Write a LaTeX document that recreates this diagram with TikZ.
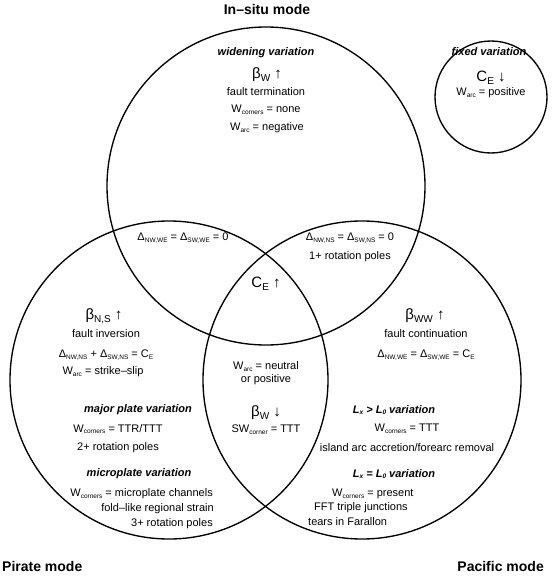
\documentclass[tikz,border=0pt]{standalone}
\usepackage{fontspec}
\setmainfont{Liberation Sans}
\newcommand\lo[1]{\raisebox{-0.3ex}{\fontsize{6.5}{7}\selectfont #1}}
\newcommand\blo[1]{\raisebox{-0.35ex}{\fontsize{10}{11}\selectfont #1}}
\tikzset{
 ring/.style={circle, draw, line width=1.35pt, inner sep=0pt},
 txt/.style={font=\fontsize{11}{13}\selectfont, inner sep=0pt},
 head/.style={font=\fontsize{11}{13}\selectfont\bfseries\itshape, inner sep=0pt},
 big/.style={font=\fontsize{15}{17}\selectfont, inner sep=0pt},
 mode/.style={font=\fontsize{14}{16}\selectfont\bfseries, inner sep=0pt},
}
\begin{document}
\begin{tikzpicture}[x=1pt,y=-1pt]
\useasboundingbox (0,0) rectangle (553,578);
\node[ring, minimum size=318pt] (insitu) at (266,186) {};
\node[ring, minimum size=318pt] (pirate) at (169,380) {};
\node[ring, minimum size=318pt] (pacific) at (362,380) {};
\node[ring, minimum size=112pt] (fixed) at (491,97) {};
% mode titles
\node[mode] (tInsitu) at (267,9) {In–situ mode};
\node[mode, anchor=west] (tPirate) at (2,566) {Pirate mode};
\node[mode, anchor=east] (tPacific) at (544,566) {Pacific mode};
% in-situ circle
\node[head] (widen) at (266,53) {widening variation};
\node[big] (bw1) at (267,75) {β\blo{W} ↑};
\node[txt] (ft) at (266,92) {fault termination};
\node[txt] (wc1) at (266,110) {W\lo{corners} = none};
\node[txt] (wa1) at (267,128) {W\lo{arc} = negative};
% fixed
\node[head] (fv) at (489,52) {fixed variation};
\node[big] (ce1) at (491,78) {C\blo{E} ↓};
\node[txt] (wa2) at (491,93) {W\lo{arc} = positive};
% overlaps with in-situ
\node[txt] (d1) at (183,238) {Δ\lo{NW,WE} = Δ\lo{SW,WE} = 0};
\node[txt] (d2) at (350,238) {Δ\lo{NW,NS} = Δ\lo{SW,NS} = 0};
\node[txt] (rp1) at (350,257) {1+ rotation poles};
\node[big] (ce2) at (266,284) {C\blo{E} ↑};
% pirate
\node[big] (bns) at (104,316) {β\blo{N,S} ↑};
\node[txt] (fi) at (106,334) {fault inversion};
\node[txt] (d3) at (106,355) {Δ\lo{NW,NS} + Δ\lo{SW,NS} = C\lo{E}};
\node[txt] (wa3) at (103,372) {W\lo{arc} = strike–slip};
\node[head] (mp) at (138,410) {major plate variation};
\node[txt] (wc2) at (118,429) {W\lo{corners} = TTR/TTT};
\node[txt] (rp2) at (118,448) {2+ rotation poles};
\node[head] (mic) at (139,474) {microplate variation};
\node[txt, anchor=east] (wc3) at (213,494) {W\lo{corners} = microplate channels};
\node[txt, anchor=east] (fl) at (214,509) {fold–like regional strain};
\node[txt, anchor=east] (rp3) at (213,524) {3+ rotation poles};
% lens
\node[txt, align=center] (wa4) at (266,373) {W\lo{arc} = neutral\\or positive};
\node[big] (bw2) at (266,413) {β\blo{W} ↓};
\node[txt] (swc) at (266,430) {SW\lo{corner} = TTT};
% pacific
\node[big] (bww) at (425,316) {β\blo{WW} ↑};
\node[txt] (fc) at (426,334) {fault continuation};
\node[txt] (d4) at (426,355) {Δ\lo{NW,WE} = Δ\lo{SW,WE} = C\lo{E}};
\node[head] (lx1) at (394,410) {L\lo{x} > L\lo{0} variation};
\node[txt] (wc4) at (407,429) {W\lo{corners} = TTT};
\node[txt] (ia) at (407,448) {island arc accretion/forearc removal};
\node[head] (lx2) at (394,474) {L\lo{x} = L\lo{0} variation};
\node[txt, anchor=west] (wc5) at (332,494) {W\lo{corners} = present};
\node[txt, anchor=west] (fft) at (314,508) {FFT triple junctions};
\node[txt, anchor=west] (tf) at (308,522) {tears in Farallon};
\end{tikzpicture}
\end{document}
